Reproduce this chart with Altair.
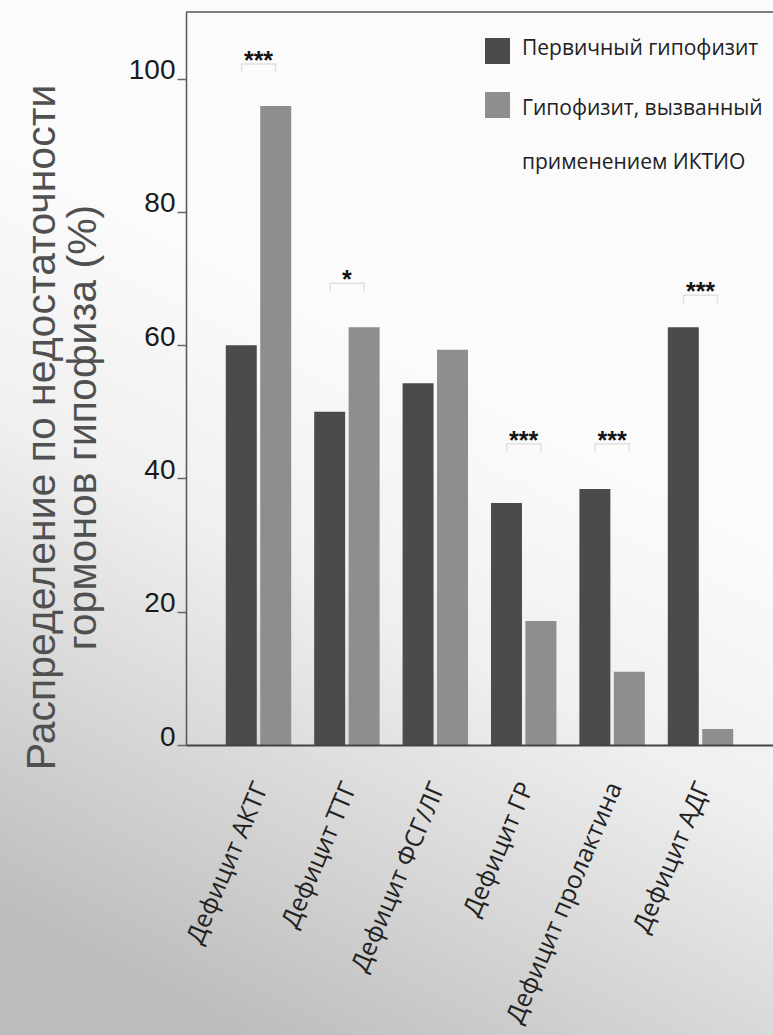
import altair as alt
import pandas as pd

# Hormone deficiency categories and the two patient groups
categories = [
    "Дефицит АКТГ",
    "Дефицит ТТГ",
    "Дефицит ФСГ/ЛГ",
    "Дефицит ГР",
    "Дефицит пролактина",
    "Дефицит АДГ",
]
series = ["Первичный гипофизит", "Гипофизит, вызванный применением ИКТИО"]
primary_pct = [60.0, 50.0, 54.3, 36.3, 38.4, 62.7]
ici_pct = [95.9, 62.7, 59.3, 18.6, 11.0, 2.4]

# Significance markers above each pair (empty = no marker)
sig_labels = ["***", "*", "", "***", "***", "***"]
sig_heights = [102.2, 69.3, None, 45.2, 45.2, 67.5]

legend_lines = [["Первичный гипофизит"], ["Гипофизит, вызванный", "применением ИКТИО"]]
y_ticks = [0, 20, 40, 60, 80, 100]
y_title = ["Распределение по недостаточности", "гормонов гипофиза (%)"]
bar_colors = ["#4b4b4b", "#8e8e8e"]

W, H = 587, 733
PAD = {"left": 186, "top": 12, "right": 0, "bottom": 290}

bars_df = pd.DataFrame(
    {
        "category": categories * 2,
        "series": [series[0]] * len(categories) + [series[1]] * len(categories),
        "pct": primary_pct + ici_pct,
    }
)
sig_df = pd.DataFrame(
    {"category": categories, "label": sig_labels, "pct": sig_heights}
).dropna()

color_scale = alt.Scale(domain=series, range=bar_colors)
x_scale = alt.Scale(paddingInner=0.26, paddingOuter=0.45)

# Soft grey backdrop, darker toward the lower left
backdrop = alt.Chart(pd.DataFrame({"k": [0]})).mark_rect(
    fill=alt.LinearGradient(
        gradient="linear",
        x1=0.55, y1=0.35, x2=0.3, y2=1.0,
        stops=[
            alt.GradientStop(offset=0, color="#fbfbfb"),
            alt.GradientStop(offset=0.35, color="#f0f0f0"),
            alt.GradientStop(offset=1, color="#bcbcbc"),
        ],
    )
).encode(
    x=alt.value(-PAD["left"]),
    x2=alt.value(W),
    y=alt.value(-PAD["top"]),
    y2=alt.value(H + PAD["bottom"]),
)

bars = alt.Chart(bars_df).mark_bar().encode(
    x=alt.X(
        "category:N",
        sort=categories,
        scale=x_scale,
        axis=alt.Axis(
            title=None,
            zindex=1,
            labelAngle=293,
            labelAlign="right",
            labelBaseline="middle",
            labelFont="Open Sans",
            labelFontSize=25,
            labelColor="#222222",
            labelPadding=38,
            labelOffset=3,
            labelLimit=500,
            labelOverlap=False,
            ticks=False,
            domainColor="#444444",
            domainWidth=2,
        ),
    ),
    xOffset=alt.XOffset("series:N", sort=series, scale=alt.Scale(paddingInner=0.1)),
    y=alt.Y(
        "pct:Q",
        scale=alt.Scale(domain=[0, 110], nice=False),
        axis=alt.Axis(
            values=y_ticks,
            grid=False,
            zindex=1,
            title=y_title,
            titleFont="Liberation Sans",
            titleFontSize=41,
            titleFontWeight="normal",
            titleColor="#505050",
            titleAngle=270,
            titleX=-132,
            titleY=415,
            titleAlign="center",
            titleBaseline="alphabetic",
            titleLineHeight=41,
            labelFont="'Liberation Sans Narrow', 'Liberation Sans', sans-serif",
            labelFontSize=28,
            labelColor="#1a1a1a",
            labelBaseline="alphabetic",
            labelPadding=2,
            tickSize=9,
            tickWidth=1.5,
            tickColor="#666666",
            domainColor="#555555",
            domainWidth=1.5,
        ),
    ),
    color=alt.Color("series:N", scale=color_scale, legend=None),
)

# Faint brackets and the significance stars above them
bracket = alt.Chart(sig_df).mark_tick(
    orient="horizontal", size=35, thickness=1.5, color="#d6d6d6"
).encode(x=alt.X("category:N", sort=categories), y="pct:Q")

bracket_ends = [
    alt.Chart(sig_df).mark_tick(
        orient="vertical", size=8, thickness=1.5, color="#d6d6d6",
        xOffset=off, yOffset=4,
    ).encode(x=alt.X("category:N", sort=categories), y="pct:Q")
    for off in (-17, 17)
]

stars = alt.Chart(sig_df).mark_text(
    font="Liberation Sans", fontSize=25, fontWeight="bold",
    baseline="alphabetic", dy=5, color="#151515",
).encode(x=alt.X("category:N", sort=categories), y="pct:Q", text="label:N")

top_rule = alt.Chart(pd.DataFrame({"k": [0]})).mark_rule(
    color="#555555", strokeWidth=1.5
).encode(x=alt.value(0), x2=alt.value(W), y=alt.value(0))

# Hand-placed legend in the upper right of the plot
legend_layers = []
swatch_top = [26, 80]
text_base = [43, 103]
for i, name in enumerate(series):
    one = pd.DataFrame({"series": [name]})
    legend_layers.append(
        alt.Chart(one).mark_rect().encode(
            x=alt.value(299), x2=alt.value(324),
            y=alt.value(swatch_top[i]), y2=alt.value(swatch_top[i] + 26),
            color=alt.Color("series:N", scale=color_scale, legend=None),
        )
    )
    legend_layers.append(
        alt.Chart(one).mark_text(
            align="left", baseline="alphabetic", font="Open Sans",
            fontSize=21, color="#222222", lineHeight=54,
            text=legend_lines[i],
        ).encode(x=alt.value(336), y=alt.value(text_base[i]))
    )

chart = alt.layer(
    backdrop, bars, bracket, *bracket_ends, stars, top_rule, *legend_layers
).properties(
    width=W,
    height=H,
    autosize=alt.AutoSizeParams(type="none"),
    padding=PAD,
).configure_view(stroke=None)

chart.save("out.html", embed_options={"renderer": "svg", "actions": False})
